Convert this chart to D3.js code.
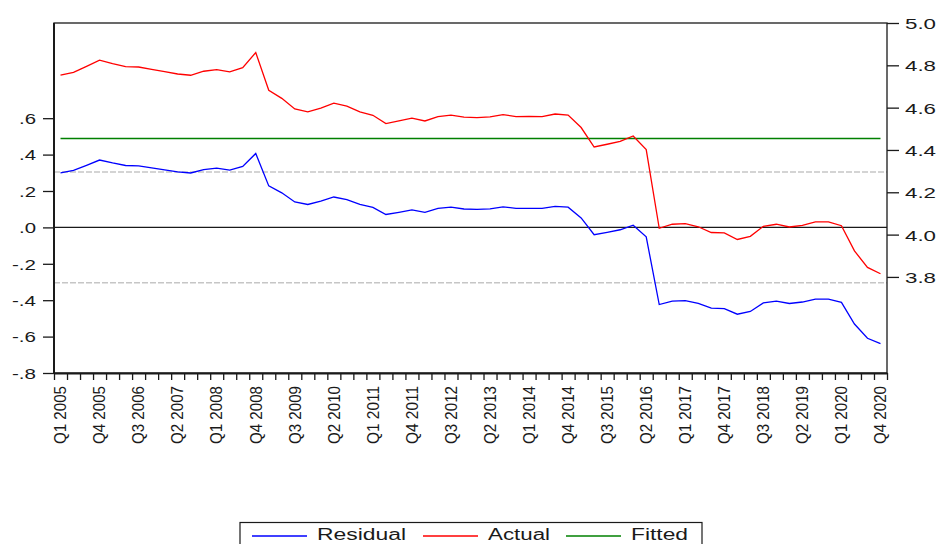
<!DOCTYPE html>
<html>
<head>
<meta charset="utf-8">
<script src="https://cdn.jsdelivr.net/npm/d3@7/dist/d3.min.js"></script>
<style>
  html, body { margin: 0; padding: 0; background: #fff; }
  svg { display: block; font-family: "Liberation Sans", Arial, sans-serif; }
</style>
</head>
<body>
<svg id="chart" width="937" height="544"></svg>
<script>
// Quarterly observations, Q1 2005 .. Q4 2020
const years = d3.range(2005, 2021);
const quarters = years.flatMap(y => [1, 2, 3, 4].map(q => `Q${q} ${y}`));

// Actual series (right axis)
const actual = [
  4.754, 4.767, 4.795, 4.824, 4.808, 4.794, 4.792, 4.781,
  4.770, 4.759, 4.753, 4.772, 4.780, 4.769, 4.789, 4.860,
  4.682, 4.644, 4.594, 4.580, 4.598, 4.621, 4.607, 4.580,
  4.564, 4.525, 4.537, 4.550, 4.537, 4.558, 4.565, 4.555,
  4.553, 4.556, 4.567, 4.558, 4.559, 4.558, 4.570, 4.565,
  4.506, 4.414, 4.427, 4.441, 4.466, 4.402, 4.030, 4.049,
  4.052, 4.037, 4.010, 4.008, 3.977, 3.992, 4.039, 4.049,
  4.036, 4.044, 4.060, 4.060, 4.042, 3.923, 3.845, 3.815
];

// Fitted series (right axis): constant level
const fitted = new Array(64).fill(4.454);

// Residual series (left axis)
const residual = [
  0.300, 0.313, 0.341, 0.370, 0.354, 0.340, 0.338, 0.327,
  0.316, 0.305, 0.299, 0.318, 0.326, 0.315, 0.335, 0.406,
  0.228, 0.190, 0.140, 0.126, 0.144, 0.167, 0.153, 0.126,
  0.110, 0.071, 0.083, 0.096, 0.083, 0.104, 0.111, 0.101,
  0.099, 0.102, 0.113, 0.104, 0.105, 0.104, 0.116, 0.111,
  0.052, -0.040, -0.027, -0.013, 0.012, -0.052, -0.424, -0.405,
  -0.402, -0.417, -0.444, -0.446, -0.477, -0.462, -0.415, -0.405,
  -0.418, -0.410, -0.394, -0.394, -0.412, -0.531, -0.609, -0.639
];

// Residual standard error band
const seBand = [0.304, -0.304];

const leftTicks = [-0.8, -0.6, -0.4, -0.2, 0.0, 0.2, 0.4, 0.6];
const rightTicks = [3.8, 4.0, 4.2, 4.4, 4.6, 4.8, 5.0];
const labelStep = 3;

const legendItems = [
  { name: "Residual", color: "#0000ff" },
  { name: "Actual",   color: "#ff0000" },
  { name: "Fitted",   color: "#008000" }
];

const plot = { left: 54, right: 887, top: 23, bottom: 373 };
const svg = d3.select("#chart");

const xBand = d3.scaleBand().domain(quarters).range([plot.left, plot.right]);
const xc = q => xBand(q) + xBand.bandwidth() / 2;
const xEdge = d3.scaleLinear().domain([0, quarters.length]).range([plot.left, plot.right]);

const yL = d3.scaleLinear().domain([-0.8, 1.123]).range([plot.bottom, plot.top]);
const yR = d3.scaleLinear().domain([3.346, 5.0]).range([plot.bottom, plot.top]);

const ink = "#1a1a1a";

// Reference lines: SE band (dashed) and zero line
const refs = svg.append("g");
seBand.forEach(v => {
  refs.append("line")
    .attr("x1", plot.left).attr("x2", plot.right)
    .attr("y1", yL(v)).attr("y2", yL(v))
    .attr("stroke", "#c6c6c6").attr("stroke-width", 1.5)
    .attr("stroke-dasharray", "6,2");
});
refs.append("line")
  .attr("x1", plot.left).attr("x2", plot.right)
  .attr("y1", yL(0)).attr("y2", yL(0))
  .attr("stroke", ink).attr("stroke-width", 1.2);

// Series lines
const lineL = d3.line().x((d, i) => xc(quarters[i])).y(d => yL(d));
const lineR = d3.line().x((d, i) => xc(quarters[i])).y(d => yR(d));

svg.append("path").datum(fitted).attr("d", lineR)
  .attr("fill", "none").attr("stroke", "#008000").attr("stroke-width", 1.4);
svg.append("path").datum(actual).attr("d", lineR)
  .attr("fill", "none").attr("stroke", "#ff0000").attr("stroke-width", 1.3);
svg.append("path").datum(residual).attr("d", lineL)
  .attr("fill", "none").attr("stroke", "#0000ff").attr("stroke-width", 1.3);

// Frame
svg.append("rect")
  .attr("x", plot.left).attr("y", plot.top)
  .attr("width", plot.right - plot.left).attr("height", plot.bottom - plot.top)
  .attr("fill", "none").attr("stroke", ink).attr("stroke-width", 1.3);
svg.append("line")
  .attr("x1", plot.left).attr("x2", plot.left)
  .attr("y1", plot.top).attr("y2", plot.bottom + 1)
  .attr("stroke", ink).attr("stroke-width", 2);

// ".6", "-.2", ".0" style labels
const fmtL = d => d3.format(".1f")(d).replace("\u2212", "-").replace(/^(-?)0\./, "$1.");

// Left axis
const gL = svg.append("g")
  .attr("transform", `translate(${plot.left},0)`)
  .call(d3.axisLeft(yL).tickValues(leftTicks).tickFormat(fmtL)
    .tickSize(11).tickSizeOuter(0).tickPadding(7));
gL.select(".domain").remove();
gL.selectAll(".tick line").attr("stroke", ink).attr("stroke-width", 1.3);
gL.selectAll(".tick text")
  .attr("fill", ink).attr("font-size", 14.5)
  .attr("dy", "0.36em")
  .attr("lengthAdjust", "spacingAndGlyphs")
  .attr("textLength", d => fmtL(d).length > 2 ? 24 : 17);

// Right axis
const gR = svg.append("g")
  .attr("transform", `translate(${plot.right},0)`)
  .call(d3.axisRight(yR).tickValues(rightTicks).tickFormat(d3.format(".1f"))
    .tickSize(12).tickSizeOuter(0).tickPadding(6));
gR.select(".domain").remove();
gR.selectAll(".tick line").attr("stroke", ink).attr("stroke-width", 1.3);
gR.selectAll(".tick text")
  .attr("fill", ink).attr("font-size", 15)
  .attr("dy", "0.36em")
  .attr("lengthAdjust", "spacingAndGlyphs")
  .attr("textLength", 31);

// Bottom axis: a tick at every quarter boundary
const gB = svg.append("g")
  .attr("transform", `translate(0,${plot.bottom})`)
  .call(d3.axisBottom(xEdge).tickValues(d3.range(quarters.length + 1))
    .tickFormat("").tickSize(7).tickSizeOuter(0));
gB.select(".domain").attr("stroke", ink).attr("stroke-width", 2);
gB.selectAll(".tick line").attr("stroke", ink).attr("stroke-width", 1.3);

// Rotated quarter labels every third observation
svg.append("g").selectAll("text")
  .data(quarters.filter((q, i) => i % labelStep === 0))
  .join("text")
  .attr("transform", d => `translate(${xc(d)},386) rotate(-90)`)
  .attr("text-anchor", "end")
  .attr("dy", "0.36em")
  .attr("font-size", 16)
  .attr("fill", ink)
  .attr("lengthAdjust", "spacingAndGlyphs")
  .attr("textLength", 58)
  .text(d => d);

// Legend
const lg = svg.append("g");
lg.append("rect")
  .attr("x", 240).attr("y", 522.5).attr("width", 462).attr("height", 30)
  .attr("fill", "#fff").attr("stroke", ink).attr("stroke-width", 1.2);
const legendX = [252, 423, 566];
const legendW = [89, 62, 57];
legendItems.forEach((it, i) => {
  lg.append("line")
    .attr("x1", legendX[i]).attr("x2", legendX[i] + 55)
    .attr("y1", 536).attr("y2", 536)
    .attr("stroke", it.color).attr("stroke-width", 1.3);
  lg.append("text")
    .attr("x", legendX[i] + 65).attr("y", 540)
    .attr("font-size", 16).attr("fill", ink)
    .attr("lengthAdjust", "spacingAndGlyphs")
    .attr("textLength", legendW[i])
    .text(it.name);
});
</script>
</body>
</html>
